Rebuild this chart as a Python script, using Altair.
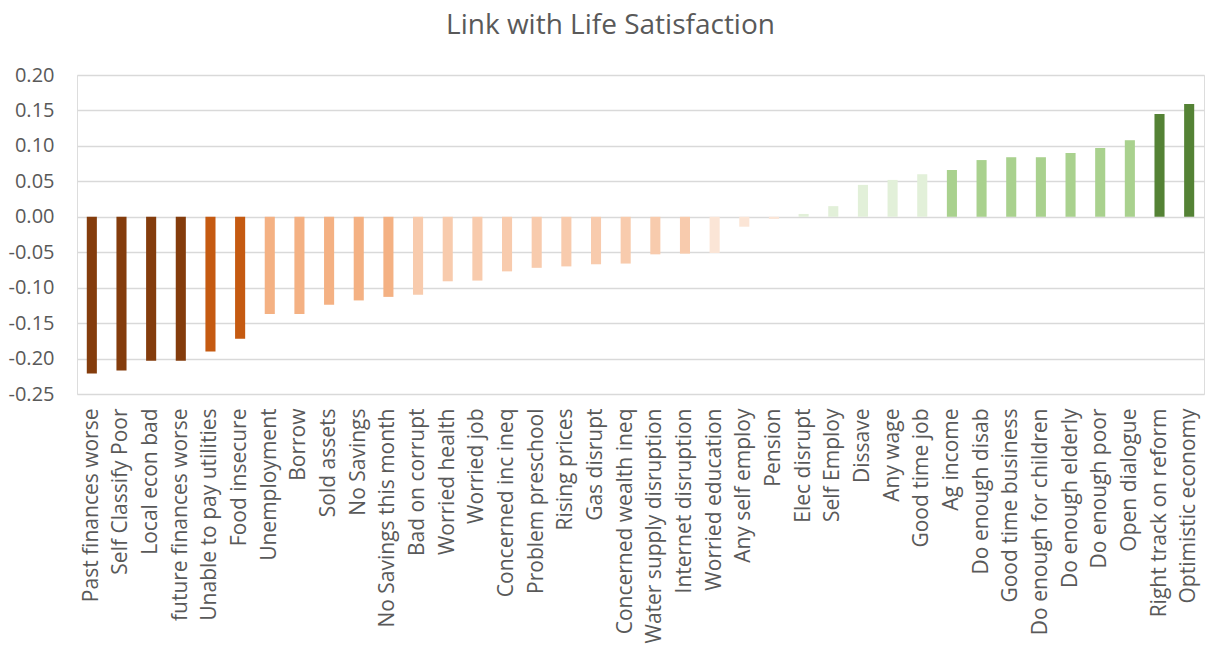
import altair as alt
import pandas as pd

labels = [
    "Past finances worse", "Self Classify Poor", "Local econ bad", "future finances worse",
    "Unable to pay utilities", "Food insecure", "Unemployment", "Borrow", "Sold assets",
    "No Savings", "No Savings this month", "Bad on corrupt", "Worried health", "Worried job",
    "Concerned inc ineq", "Problem preschool", "Rising prices", "Gas disrupt",
    "Concerned wealth ineq", "Water supply disruption", "Internet disruption",
    "Worried education", "Any self employ", "Pension", "Elec disrupt", "Self Employ",
    "Dissave", "Any wage", "Good time job", "Ag income", "Do enough disab",
    "Good time business", "Do enough for children", "Do enough elderly", "Do enough poor",
    "Open dialogue", "Right track on reform", "Optimistic economy",
]

values = [
    -0.221, -0.217, -0.203, -0.203, -0.190, -0.172, -0.137, -0.137, -0.124, -0.118,
    -0.113, -0.110, -0.091, -0.090, -0.077, -0.072, -0.070, -0.067, -0.066, -0.053,
    -0.052, -0.051, -0.014, -0.003, 0.004, 0.015, 0.045, 0.052, 0.060, 0.066,
    0.080, 0.084, 0.084, 0.090, 0.097, 0.108, 0.145, 0.159,
]

# strength tier of each link, from strongest negative to strongest positive
tiers = [
    "n4", "n4", "n4", "n4", "n3", "n3", "n2", "n2", "n2", "n2",
    "n2", "n1", "n1", "n1", "n1", "n1", "n1", "n1", "n1", "n1",
    "n1", "n0", "n0", "n0", "p0", "p0", "p0", "p0", "p0", "p1",
    "p1", "p1", "p1", "p1", "p1", "p1", "p2", "p2",
]

tier_names = ["n4", "n3", "n2", "n1", "n0", "p0", "p1", "p2"]
tier_colors = ["#843C0C", "#C55A11", "#F4B183", "#F8CBAD", "#FBE5D6",
               "#E2F0D9", "#A9D18E", "#548235"]

y_ticks = [-0.25, -0.20, -0.15, -0.10, -0.05, 0.0, 0.05, 0.10, 0.15, 0.20]

df = pd.DataFrame({"label": labels, "value": values, "tier": tiers})

text_color = "#595959"
font = "Open Sans"

chart = (
    alt.Chart(df)
    .mark_bar()
    .encode(
        x=alt.X(
            "label:N",
            sort=labels,
            scale=alt.Scale(paddingInner=0.66, paddingOuter=0.33),
            axis=alt.Axis(
                title=None,
                labelAngle=-90,
                labelFontSize=21,
                labelColor=text_color,
                labelFont=font,
                labelPadding=14,
                labelLimit=400,
                ticks=False,
                domain=False,
                grid=False,
            ),
        ),
        y=alt.Y(
            "value:Q",
            scale=alt.Scale(domain=[-0.25, 0.2], nice=False, zero=False),
            axis=alt.Axis(
                title=None,
                values=y_ticks,
                labelExpr="replace(format(datum.value, '.2f'), '\u2212', '-')",
                labelFontSize=20,
                labelColor=text_color,
                labelFont=font,
                labelPadding=23,
                ticks=False,
                domain=False,
                grid=True,
                gridColor="#D9D9D9",
                gridWidth=1.3,
            ),
        ),
        color=alt.Color(
            "tier:N",
            scale=alt.Scale(domain=tier_names, range=tier_colors),
            legend=None,
        ),
    )
    .properties(
        width=1127,
        height=319,
        title=alt.TitleParams(
            "Link with Life Satisfaction",
            fontSize=28,
            font=font,
            fontWeight="normal",
            color=text_color,
            anchor="middle",
            dx=-30,
            offset=25,
        ),
        autosize=alt.AutoSizeParams(type="none"),
        padding={"left": 77, "top": 75, "right": 3, "bottom": 251},
    )
    .configure_view(stroke=None)
    .configure(background="white")
)

chart.save("out.html", embed_options={"renderer": "svg", "actions": False})
